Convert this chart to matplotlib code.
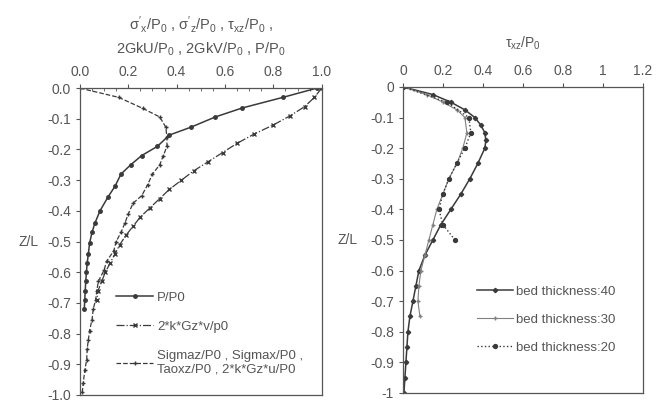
import matplotlib
matplotlib.use('Agg')
import matplotlib.pyplot as plt
from matplotlib.ticker import MultipleLocator, FormatStrFormatter

plt.rcParams['font.family'] = ['Liberation Sans', 'DejaVu Sans']
plt.rcParams['mathtext.fontset'] = 'custom'
plt.rcParams['mathtext.rm'] = 'Liberation Sans'
plt.rcParams['mathtext.it'] = 'Liberation Sans'

# ---- left panel: normalised stresses / displacements vs depth ----
z_p = [0, -0.03, -0.065, -0.094, -0.127, -0.153, -0.19, -0.22, -0.25, -0.28, -0.32,
       -0.355, -0.40, -0.44, -0.47, -0.505, -0.54, -0.57, -0.60, -0.63, -0.66, -0.69, -0.72]
p_p0 = [0.98, 0.84, 0.67, 0.56, 0.46, 0.37, 0.32, 0.255, 0.21, 0.17, 0.145,
        0.116, 0.083, 0.062, 0.05, 0.04, 0.035, 0.03, 0.027, 0.024, 0.022, 0.02, 0.018]

z_v = [0, -0.03, -0.06, -0.09, -0.12, -0.15, -0.18, -0.21, -0.24, -0.27, -0.30, -0.33,
       -0.36, -0.39, -0.42, -0.45, -0.48, -0.51, -0.54, -0.57, -0.60, -0.63, -0.66, -0.69]
gz_v = [1.0, 0.97, 0.93, 0.87, 0.80, 0.72, 0.65, 0.59, 0.53, 0.47, 0.42, 0.37,
        0.33, 0.29, 0.25, 0.22, 0.19, 0.165, 0.145, 0.125, 0.105, 0.09, 0.075, 0.07]

z_s = [0, -0.03, -0.066, -0.094, -0.127, -0.16, -0.19, -0.22, -0.25, -0.28, -0.315, -0.35,
       -0.375, -0.41, -0.44, -0.47, -0.50, -0.53, -0.565, -0.593, -0.63, -0.66, -0.69, -0.72,
       -0.755, -0.79, -0.82, -0.85, -0.885, -0.92, -0.96, -0.99]
sig = [0, 0.16, 0.26, 0.33, 0.355, 0.36, 0.36, 0.345, 0.33, 0.30, 0.28, 0.256,
       0.22, 0.20, 0.186, 0.17, 0.15, 0.14, 0.11, 0.10, 0.076, 0.07, 0.065, 0.055,
       0.05, 0.04, 0.035, 0.03, 0.028, 0.02, 0.014, 0.01]

# ---- right panel: shear stress for three bed thicknesses ----
z40 = [0, -0.025, -0.05, -0.075, -0.1, -0.125, -0.15, -0.175, -0.2, -0.25, -0.3, -0.35,
       -0.4, -0.45, -0.5, -0.55, -0.6, -0.65, -0.7, -0.75, -0.8, -0.85, -0.9, -0.95, -1.0]
t40 = [0, 0.15, 0.24, 0.31, 0.36, 0.39, 0.41, 0.415, 0.41, 0.375, 0.335, 0.29,
       0.24, 0.19, 0.15, 0.11, 0.08, 0.065, 0.05, 0.035, 0.025, 0.02, 0.015, 0.01, 0.005]
z30 = [0, -0.025, -0.05, -0.075, -0.1, -0.15, -0.2, -0.25, -0.3, -0.35, -0.4, -0.45, -0.5,
       -0.55, -0.6, -0.65, -0.7, -0.75]
t30 = [0, 0.12, 0.2, 0.27, 0.31, 0.32, 0.30, 0.27, 0.23, 0.2, 0.17, 0.15, 0.13,
       0.11, 0.09, 0.08, 0.075, 0.085]
z20 = [0, -0.05, -0.1, -0.15, -0.2, -0.25, -0.3, -0.35, -0.4, -0.45, -0.5]
t20 = [0, 0.22, 0.33, 0.34, 0.31, 0.27, 0.23, 0.2, 0.18, 0.2, 0.26]

ink = '#3a3a3a'
txt = '#555555'

fig = plt.figure(figsize=(6.66, 4.08), dpi=100)
ax1 = fig.add_axes([0.120, 0.032, 0.363, 0.752])
ax2 = fig.add_axes([0.605, 0.037, 0.360, 0.750])

ax1.plot(p_p0, z_p, '-', color=ink, lw=1.1, marker='o', ms=2.5, label='P/P0')
ax1.plot(gz_v, z_v, '-.', color=ink, lw=0.9, marker='x', ms=3, label='2*k*Gz*v/p0')
ax1.plot(sig, z_s, '--', color=ink, lw=0.9, marker='+', ms=3,
         label='Sigmaz/P0 , Sigmax/P0 ,\nTaoxz/P0 , 2*k*Gz*u/P0')

ax2.plot(t40, z40, '-', color=ink, lw=1.1, marker='D', ms=2.2, label='bed thickness:40')
ax2.plot(t30, z30, '-', color='#808080', lw=0.8, marker='+', ms=3, label='bed thickness:30')
ax2.plot(t20, z20, ':', color=ink, lw=1.0, marker='o', ms=2.8, label='bed thickness:20')

for ax in (ax1, ax2):
    ax.set_ylim(-1.0, 0)
    ax.xaxis.tick_top()
    ax.yaxis.set_major_locator(MultipleLocator(0.1))
    ax.tick_params(axis='both', colors=txt, labelsize=10, length=3, width=0.8)
    ax.tick_params(axis='both', which='minor', length=2, direction='in', color=txt)
    for s in ax.spines.values():
        s.set_color('#555555')
        s.set_linewidth(0.9)
    ax.set_ylabel('Z/L', rotation=0, fontsize=10, color=txt, ha='right', va='center')

ax1.set_xlim(0, 1.0)
ax1.xaxis.set_major_locator(MultipleLocator(0.2))
ax1.xaxis.set_minor_locator(MultipleLocator(0.05))
ax1.xaxis.set_major_formatter(FormatStrFormatter('%.1f'))
ax1.yaxis.set_major_formatter(FormatStrFormatter('%.1f'))
ax1.yaxis.set_label_coords(-0.17, 0.5)
ax1.set_title("$\\mathregular{\\sigma'_x/P_0}$ , $\\mathregular{\\sigma'_z/P_0}$ , "
              "$\\mathregular{\\tau_{xz}/P_0}$ ,\n"
              "2GkU/$\\mathregular{P_0}$ , 2GkV/$\\mathregular{P_0}$ , P/$\\mathregular{P_0}$",
              fontsize=10.5, color=txt, pad=8, linespacing=1.45)

ax2.set_xlim(0, 1.2)
ax2.xaxis.set_major_locator(MultipleLocator(0.2))
ax2.xaxis.set_major_formatter(plt.FuncFormatter(lambda v, p: f'{v:g}'))
ax2.yaxis.set_major_formatter(plt.FuncFormatter(lambda v, p: f'{v:g}'))
ax2.yaxis.set_label_coords(-0.19, 0.5)
ax2.set_title('$\\mathregular{\\tau_{xz}/P_0}$', fontsize=10, color=txt, pad=12)

leg1 = ax1.legend(loc='center left', bbox_to_anchor=(0.15, 0.2), frameon=False,
                  fontsize=9.5, labelspacing=1.3, handlelength=2.8, handletextpad=0.3,
                  borderpad=0, borderaxespad=0)
leg2 = ax2.legend(loc='center left', bbox_to_anchor=(0.31, 0.24), frameon=False,
                  fontsize=9.5, labelspacing=1.2, handlelength=2.7, handletextpad=0.25,
                  borderpad=0, borderaxespad=0)
for leg in (leg1, leg2):
    for t in leg.get_texts():
        t.set_color(txt)

fig.savefig('out.png', dpi=100)
